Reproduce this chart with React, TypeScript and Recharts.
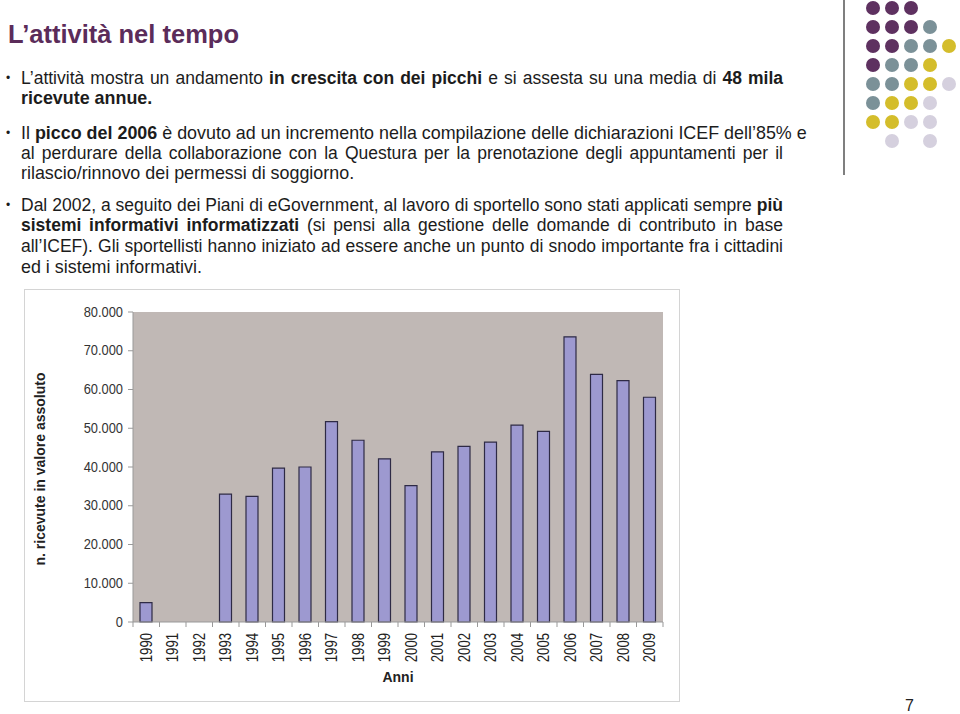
import React from "react";
import { Bar, BarChart, CartesianGrid, Label, XAxis, YAxis } from "recharts";

const years = [
  "1990", "1991", "1992", "1993", "1994", "1995", "1996", "1997", "1998", "1999",
  "2000", "2001", "2002", "2003", "2004", "2005", "2006", "2007", "2008", "2009",
];
const receipts = [
  5000, 0, 0, 33000, 32400, 39700, 40000, 51700, 46900, 42100,
  35200, 43900, 45300, 46400, 50800, 49200, 73600, 63900, 62300, 58000,
];
const yTicks = [0, 10000, 20000, 30000, 40000, 50000, 60000, 70000, 80000];

const data = years.map((year, i) => ({ year, value: receipts[i] }));

const FONT = "'Liberation Sans', Arial, Helvetica, sans-serif";
const PURPLE = "#5e3160";
const TEAL = "#7b9198";
const YELLOW = "#d4bd2b";
const LILAC = "#d5d0de";

// decoration grid, rows top to bottom, "" = empty slot
const dotRows = [
  [PURPLE, PURPLE, PURPLE, "", ""],
  [PURPLE, PURPLE, PURPLE, TEAL, ""],
  [PURPLE, PURPLE, TEAL, TEAL, YELLOW],
  [PURPLE, TEAL, TEAL, YELLOW, ""],
  [TEAL, TEAL, YELLOW, YELLOW, LILAC],
  [TEAL, YELLOW, YELLOW, LILAC, ""],
  [YELLOW, YELLOW, LILAC, LILAC, ""],
  ["", LILAC, "", LILAC, ""],
];

const formatThousands = (v: number): string =>
  String(v).replace(/\B(?=(\d{3})+(?!\d))/g, ".");

const HALF_BAND = 13.25;

// the slide's font is a bit narrow, so the labels are squeezed along the text
const YearTick = (props: any) => {
  const { x, y, payload, index } = props;
  return (
    <g>
      {index === 0 && (
        <line x1={x - HALF_BAND} x2={x - HALF_BAND} y1={y} y2={y + 5} stroke="#999" />
      )}
      <line x1={x + HALF_BAND} x2={x + HALF_BAND} y1={y} y2={y + 5} stroke="#999" />
      <text
        x={0}
        y={0}
        transform={`translate(${x},${y + 11}) rotate(-90) scale(0.82,1)`}
        textAnchor="end"
        dominantBaseline="central"
        fontSize={16}
        fill="#222"
        fontFamily={FONT}
      >
        {payload.value}
      </text>
    </g>
  );
};

const ValueTick = (props: any) => {
  const { x, y, payload } = props;
  return (
    <text
      x={0}
      y={0}
      transform={`translate(${x},${y}) scale(0.92,1)`}
      textAnchor="end"
      dominantBaseline="central"
      fontSize={14}
      fill="#333"
      fontFamily={FONT}
    >
      {formatThousands(payload.value)}
    </text>
  );
};

// justified lines use a touch smaller size so they fit the 762px column
const lineStyle = (top: number, justify = false): React.CSSProperties => ({
  position: "absolute",
  left: 21,
  top,
  width: 762,
  whiteSpace: "nowrap",
  fontSize: justify ? 17.5 : 17.9,
  lineHeight: "20px",
  color: "#1c1c1c",
  textAlign: justify ? "justify" : "left",
  textAlignLast: justify ? "justify" : "auto",
});

const bulletStyle = (top: number): React.CSSProperties => ({
  position: "absolute",
  left: 6,
  top,
  fontSize: 12,
  lineHeight: "20px",
  color: "#1c1c1c",
});

export default function App() {
  return (
    <div
      style={{
        position: "absolute",
        left: 0,
        top: 0,
        width: 960,
        height: 714,
        background: "#fff",
        fontFamily: FONT,
        overflow: "hidden",
      }}
    >
      <div
        style={{
          position: "absolute",
          left: 8,
          top: 20,
          fontSize: 25.5,
          fontWeight: "bold",
          color: "#5b2c5a",
          whiteSpace: "nowrap",
        }}
      >
        L’attività nel tempo
      </div>

      <div style={bulletStyle(68)}>•</div>
      <div style={lineStyle(68, true)}>
        L’attività mostra un andamento <b>in crescita con dei picchi</b> e si assesta su una media di <b>48 mila</b>
      </div>
      <div style={lineStyle(88)}>
        <b>ricevute annue.</b>
      </div>

      <div style={bulletStyle(123)}>•</div>
      <div style={lineStyle(123)}>
        Il <b>picco del 2006</b> è dovuto ad un incremento nella compilazione delle dichiarazioni ICEF dell’85% e
      </div>
      <div style={lineStyle(143, true)}>
        al perdurare della collaborazione con la Questura per la prenotazione degli appuntamenti per il
      </div>
      <div style={lineStyle(163)}>rilascio/rinnovo dei permessi di soggiorno.</div>

      <div style={bulletStyle(195)}>•</div>
      <div style={lineStyle(195, true)}>
        Dal 2002, a seguito dei Piani di eGovernment, al lavoro di sportello sono stati applicati sempre <b>più</b>
      </div>
      <div style={lineStyle(215, true)}>
        <b>sistemi informativi informatizzati</b> (si pensi alla gestione delle domande di contributo in base
      </div>
      <div style={lineStyle(236, true)}>
        all’ICEF). Gli sportellisti hanno iniziato ad essere anche un punto di snodo importante fra i cittadini
      </div>
      <div style={lineStyle(257)}>ed i sistemi informativi.</div>

      <svg
        width={120}
        height={180}
        style={{ position: "absolute", left: 840, top: 0 }}
      >
        <line x1={4} x2={4} y1={0} y2={175} stroke="#555" strokeWidth={1.5} />
        {dotRows.map((row, r) =>
          row.map((c, k) =>
            c ? <circle key={`${r}-${k}`} cx={33 + k * 19} cy={8 + r * 19} r={7} fill={c} /> : null
          )
        )}
      </svg>

      <div
        style={{
          position: "absolute",
          left: 24,
          top: 289,
          width: 656,
          height: 413,
          boxSizing: "border-box",
          border: "1px solid #d4d4d4",
        }}
      >
        <BarChart
          width={654}
          height={411}
          data={data}
          margin={{ top: 22, right: 16, left: 0, bottom: 0 }}
        >
          <CartesianGrid horizontal={false} vertical={false} fill="#c0b8b5" />
          <XAxis
            dataKey="year"
            interval={0}
            height={79}
            tickSize={0}
            tickMargin={0}
            tickLine={false}
            stroke="#999"
            tick={<YearTick />}
          >
            <Label
              content={(p: any) => {
                const vb = p.viewBox;
                return (
                  <text
                    x={vb.x + vb.width / 2}
                    y={vb.y + 55}
                    textAnchor="middle"
                    dominantBaseline="central"
                    fontSize={14}
                    fontWeight="bold"
                    fill="#222"
                    fontFamily={FONT}
                  >
                    Anni
                  </text>
                );
              }}
            />
          </XAxis>
          <XAxis
            xAxisId="top"
            orientation="top"
            dataKey="year"
            height={0}
            tick={false}
            tickLine={false}
            stroke="#888"
          />
          <YAxis
            width={108}
            domain={[0, 80000]}
            ticks={yTicks}
            tickSize={5}
            tickMargin={5}
            stroke="#999"
            tick={<ValueTick />}
          >
            <Label
              content={(p: any) => {
                const vb = p.viewBox;
                const cx = vb.x + 15;
                const cy = vb.y + vb.height / 2 + 2;
                return (
                  <text
                    x={cx}
                    y={cy}
                    transform={`rotate(-90, ${cx}, ${cy})`}
                    textAnchor="middle"
                    dominantBaseline="central"
                    fontSize={14}
                    fontWeight="bold"
                    fill="#222"
                    fontFamily={FONT}
                  >
                    n. ricevute in valore assoluto
                  </text>
                );
              }}
            />
          </YAxis>
          <YAxis
            yAxisId="right"
            orientation="right"
            width={0}
            domain={[0, 80000]}
            tick={false}
            tickLine={false}
            stroke="#888"
          />
          <Bar
            dataKey="value"
            fill="#9d99d0"
            stroke="#2e2a45"
            strokeWidth={1.2}
            barSize={12}
            isAnimationActive={false}
          />
        </BarChart>
      </div>

      <div
        style={{
          position: "absolute",
          left: 905,
          top: 697,
          fontSize: 16,
          color: "#222",
        }}
      >
        7
      </div>
    </div>
  );
}
